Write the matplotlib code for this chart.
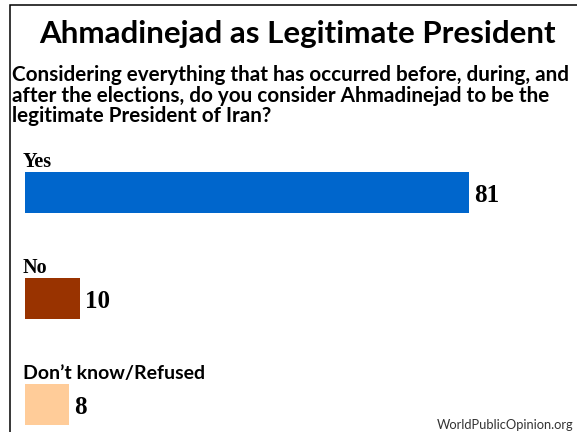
import matplotlib.pyplot as plt
from matplotlib.patches import Rectangle

# data
categories = ["Yes", "No", "Don\u2019t know/Refused"]
values = [81, 10, 8]
colors = ["#0066CC", "#993300", "#FFCC99"]
label_serif = [True, True, False]

title = "Ahmadinejad as Legitimate President"
question = ["Considering everything that has occurred before, during, and",
            "after the elections, do you consider Ahmadinejad to be the",
            "legitimate President of Iran?"]
source = "WorldPublicOpinion.org"

W, H = 577, 432
SANS = ['Lato', 'DejaVu Sans']
SERIF = ['Liberation Serif', 'DejaVu Serif']
plt.rcParams['font.family'] = SANS

fig = plt.figure(figsize=(W / 100, H / 100), dpi=100)
fig.patch.set_facecolor("white")

# outer frame (runs off the right and bottom edges)
fig.patches.append(Rectangle((10 / W, -0.1), 1.2, 1 - 5 / H + 0.1,
                             transform=fig.transFigure, fill=False,
                             edgecolor="black", linewidth=1.1))

fig.text(297 / W, 1 - 43 / H, title, ha="center", va="baseline",
         fontsize=22.5, fontweight="bold")
for i, line in enumerate(question):
    fig.text(12 / W, 1 - (81 + 20.5 * i) / H, line, ha="left", va="baseline",
             fontsize=14.9, fontweight="bold")

# bars axes: x in percent, y in category slots
scale = 5.48  # pixels per percent
ax = fig.add_axes([25 / W, 0, (W - 25) / W, 292 / H])
ax.set_xlim(0, (W - 25) / scale)
ax.set_ylim(2.259, -0.495)
ax.axis("off")

pos = list(range(len(categories)))
ax.barh(pos, values, height=0.39, color=colors, edgecolor="none")
for p, cat, v, serif in zip(pos, categories, values, label_serif):
    if serif:
        ax.text(-0.4, p - 0.24, cat, ha="left", va="baseline",
                fontsize=14.5, fontweight="bold", family=SERIF)
    else:
        ax.text(-0.3, p - 0.24, cat, ha="left", va="baseline",
                fontsize=14, fontweight="bold")
    ax.text(v + 0.9, p + 0.09, str(v), ha="left", va="baseline",
            fontsize=18, fontweight="bold", family=SERIF)

fig.text(437 / W, 1 - 429 / H, source, ha="left", va="baseline",
         fontsize=9.3, color="#333333")

fig.savefig("out.png", dpi=100)
